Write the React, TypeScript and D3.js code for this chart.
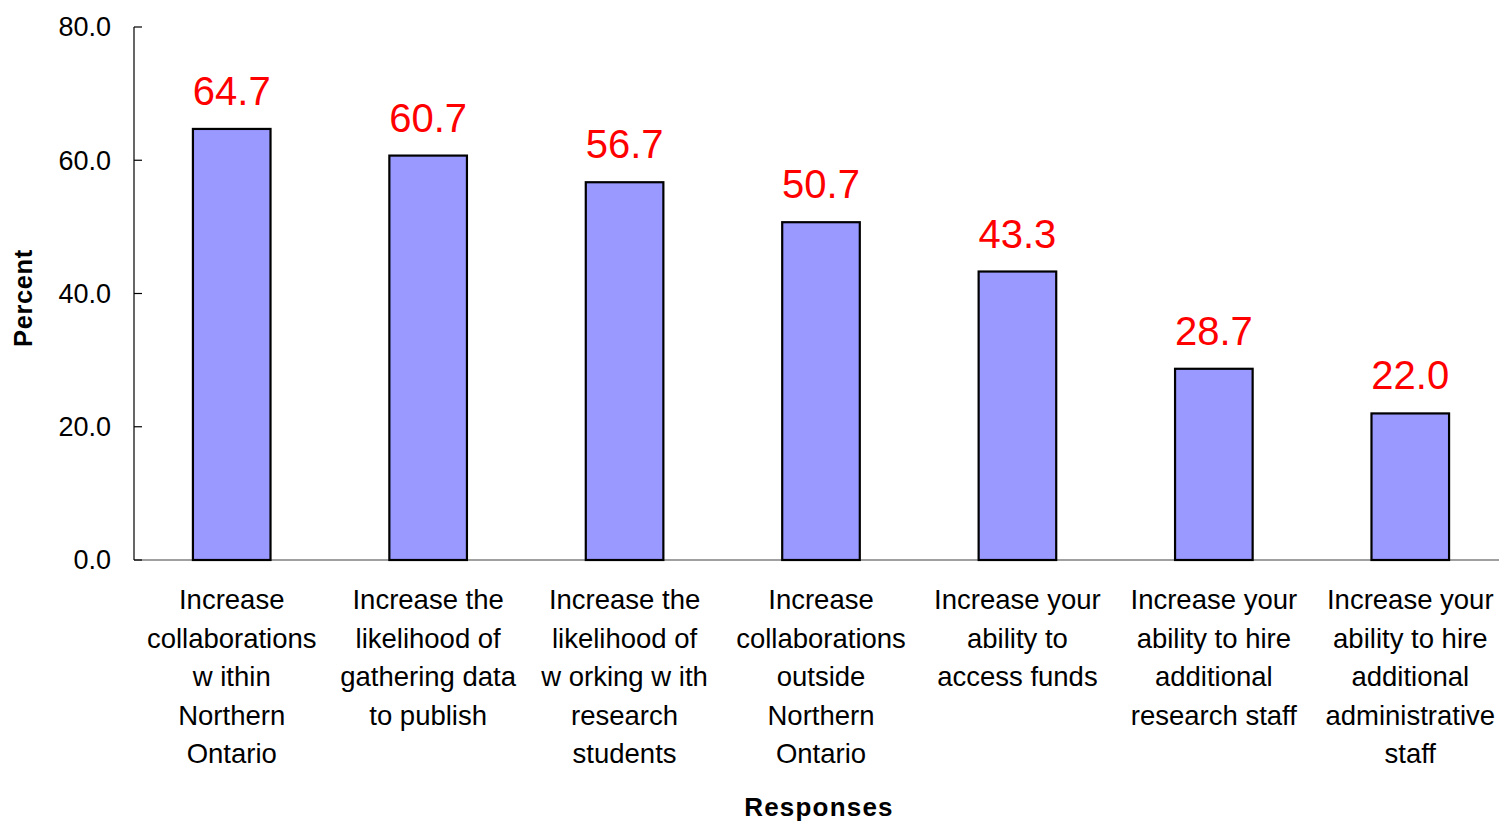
import React from "react";
import * as d3 from "d3";

const categories: string[][] = [
  ["Increase", "collaborations", "w ithin", "Northern", "Ontario"],
  ["Increase the", "likelihood of", "gathering data", "to publish"],
  ["Increase the", "likelihood of", "w orking w ith", "research", "students"],
  ["Increase", "collaborations", "outside", "Northern", "Ontario"],
  ["Increase your", "ability to", "access funds"],
  ["Increase your", "ability to hire", "additional", "research staff"],
  ["Increase your", "ability to hire", "additional", "administrative", "staff"],
];
const values: number[] = [64.7, 60.7, 56.7, 50.7, 43.3, 28.7, 22.0];
const yTicks: number[] = [0, 20, 40, 60, 80];
const yLabel = "Percent";
const xLabel = "Responses";

const W = 1499;
const H = 822;
const FONT = "'Liberation Sans', Arial, sans-serif";

export default function App() {
  const ids = categories.map((_, i) => String(i));
  const x = d3.scaleBand<string>().domain(ids).range([134, 1508]).paddingInner(0.605).paddingOuter(0.3);
  const y = d3.scaleLinear().domain([0, 80]).range([560, 27]);

  return (
    <svg width={W} height={H} style={{ position: "absolute", left: 0, top: 0, background: "#fff" }} fontFamily={FONT}>
      <line x1={134} x2={W} y1={y(0)} y2={y(0)} stroke="#808080" strokeWidth={1.5} />
      <line x1={134} x2={134} y1={y(80)} y2={y(0)} stroke="#000" strokeWidth={1.2} />
      {yTicks.map((t) => (
        <g key={t}>
          <line x1={134} x2={142} y1={y(t)} y2={y(t)} stroke="#000" strokeWidth={1.2} />
          <text x={111} y={y(t)} dy="0.35em" textAnchor="end" fontSize={27} fill="#000">
            {t.toFixed(1)}
          </text>
        </g>
      ))}
      {values.map((v, i) => {
        const bx = x(String(i))!;
        const bw = x.bandwidth();
        const cx = bx + bw / 2;
        return (
          <g key={i}>
            <rect x={bx} y={y(v)} width={bw} height={y(0) - y(v)} fill="#9999FF" stroke="#000" strokeWidth={2.2} />
            <text x={cx} y={y(v) - 24} textAnchor="middle" fontSize={40} fill="#FF0000">
              {v.toFixed(1)}
            </text>
            {categories[i].map((line, j) => (
              <text key={j} x={cx} y={609 + j * 38.5} textAnchor="middle" fontSize={27.5} fill="#000">
                {line}
              </text>
            ))}
          </g>
        );
      })}
      <text
        transform={`translate(32,298) rotate(-90)`}
        textAnchor="middle"
        fontSize={25.5}
        fontWeight="bold"
        letterSpacing={0.6}
      >
        {yLabel}
      </text>
      <text x={819} y={816} textAnchor="middle" fontSize={26} fontWeight="bold" letterSpacing={1.2}>
        {xLabel}
      </text>
    </svg>
  );
}
